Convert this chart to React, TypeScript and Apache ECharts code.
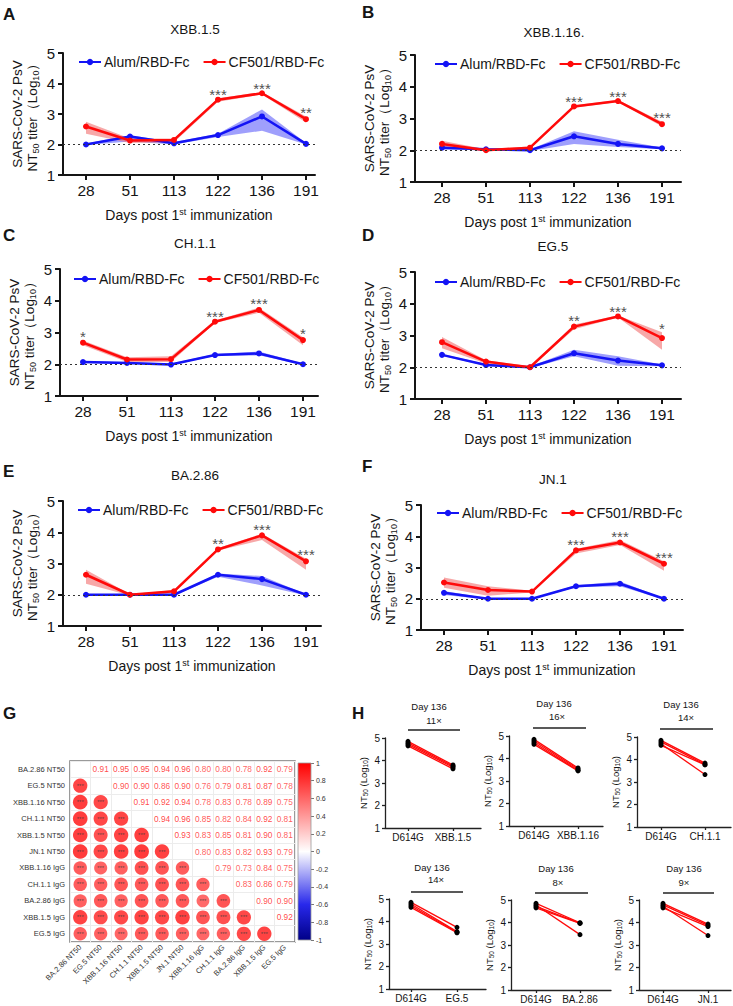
import React, { useEffect, useRef } from "react";
import * as echarts from "echarts";

const FONT = "Arial, 'Liberation Sans', Helvetica, sans-serif";

// ---------- DATA ----------
const days = ["28", "51", "113", "122", "136", "191"];
const groupAlum = "Alum/RBD-Fc";
const groupCF = "CF501/RBD-Fc";

// A: XBB.1.5
const aAlum = [2.0, 2.26, 2.04, 2.31, 2.92, 2.02];
const aAlumLo = [1.98, 2.1, 2.0, 2.25, 2.45, 2.0];
const aAlumHi = [2.03, 2.3, 2.08, 2.35, 3.15, 2.05];
const aCF = [2.59, 2.13, 2.15, 3.47, 3.68, 2.83];
const aCFLo = [2.35, 2.05, 2.07, 3.4, 3.64, 2.72];
const aCFHi = [2.75, 2.2, 2.2, 3.52, 3.72, 2.92];
const aStars = ["", "", "", "***", "***", "**"];

// B: XBB.1.16
const bAlum = [2.08, 2.03, 2.0, 2.44, 2.2, 2.06];
const bAlumLo = [2.02, 2.0, 1.98, 2.2, 2.1, 2.03];
const bAlumHi = [2.12, 2.06, 2.02, 2.6, 2.33, 2.09];
const bCF = [2.2, 2.0, 2.08, 3.38, 3.55, 2.82];
const bCFLo = [2.1, 1.97, 2.04, 3.34, 3.52, 2.75];
const bCFHi = [2.3, 2.03, 2.12, 3.42, 3.58, 2.9];
const bStars = ["", "", "", "***", "***", "***"];

// C: CH.1.1
const cAlum = [2.07, 2.04, 1.99, 2.29, 2.34, 2.0];
const cAlumLo = [2.04, 2.01, 1.97, 2.26, 2.28, 1.98];
const cAlumHi = [2.1, 2.07, 2.02, 2.32, 2.4, 2.02];
const cCF = [2.68, 2.15, 2.16, 3.34, 3.71, 2.76];
const cCFLo = [2.6, 2.07, 2.07, 3.3, 3.62, 2.6];
const cCFHi = [2.75, 2.22, 2.25, 3.38, 3.78, 2.85];
const cStars = ["*", "", "", "***", "***", "*"];

// D: EG.5
const dAlum = [2.39, 2.07, 2.0, 2.44, 2.21, 2.06];
const dAlumLo = [2.36, 2.04, 1.98, 2.35, 2.05, 2.03];
const dAlumHi = [2.42, 2.1, 2.02, 2.55, 2.35, 2.09];
const dCF = [2.79, 2.18, 2.0, 3.28, 3.6, 2.92];
const dCFLo = [2.6, 2.12, 1.97, 3.2, 3.57, 2.55];
const dCFHi = [2.95, 2.22, 2.03, 3.35, 3.63, 3.1];
const dStars = ["", "", "", "**", "***", "*"];

// E: BA.2.86
const eAlum = [2.0, 2.0, 2.0, 2.64, 2.5, 2.0];
const eAlumLo = [1.98, 1.98, 1.98, 2.58, 2.3, 1.98];
const eAlumHi = [2.02, 2.02, 2.02, 2.68, 2.6, 2.02];
const eCF = [2.64, 2.0, 2.11, 3.45, 3.9, 3.07];
const eCFLo = [2.35, 1.98, 2.05, 3.42, 3.75, 2.8];
const eCFHi = [2.8, 2.02, 2.15, 3.5, 3.95, 3.15];
const eStars = ["", "", "", "**", "***", "***"];

// F: JN.1
const fAlum = [2.19, 2.0, 2.0, 2.4, 2.48, 2.0];
const fAlumLo = [2.12, 1.98, 1.98, 2.37, 2.4, 1.98];
const fAlumHi = [2.25, 2.02, 2.02, 2.43, 2.55, 2.02];
const fCF = [2.52, 2.28, 2.23, 3.55, 3.8, 3.12];
const fCFLo = [2.35, 2.1, 2.2, 3.45, 3.72, 2.9];
const fCFHi = [2.68, 2.4, 2.26, 3.6, 3.88, 3.2];
const fStars = ["", "", "", "***", "***", "***"];

// G: correlation matrix (upper triangle rows)
const corrNames = [
  "BA.2.86 NT50", "EG.5 NT50", "XBB.1.16 NT50", "CH.1.1 NT50", "XBB.1.5 NT50",
  "JN.1 NT50", "XBB.1.16 IgG", "CH.1.1 IgG", "BA.2.86 IgG", "XBB.1.5 IgG", "EG.5 IgG",
];
const corrRow0 = [0.91, 0.95, 0.95, 0.94, 0.96, 0.8, 0.8, 0.78, 0.92, 0.79];
const corrRow1 = [0.9, 0.9, 0.86, 0.9, 0.76, 0.79, 0.81, 0.87, 0.78];
const corrRow2 = [0.91, 0.92, 0.94, 0.78, 0.83, 0.78, 0.89, 0.75];
const corrRow3 = [0.94, 0.96, 0.85, 0.82, 0.84, 0.92, 0.81];
const corrRow4 = [0.93, 0.83, 0.85, 0.81, 0.9, 0.81];
const corrRow5 = [0.8, 0.83, 0.82, 0.93, 0.79];
const corrRow6 = [0.79, 0.73, 0.84, 0.75];
const corrRow7 = [0.83, 0.86, 0.79];
const corrRow8 = [0.9, 0.9];
const corrRow9 = [0.92];
const corrRows = [corrRow0, corrRow1, corrRow2, corrRow3, corrRow4, corrRow5, corrRow6, corrRow7, corrRow8, corrRow9, []];
const corrSig = "***";
const corrTicks = [1, 0.8, 0.6, 0.4, 0.2, 0, -0.2, -0.4, -0.6, -0.8, -1];

// H: Day 136 paired titers
const hTitle = "Day 136";
const h1Variant = "XBB.1.5";
const h1Fold = "11×";
const h1D614G = [4.85, 4.78, 4.72, 4.65];
const h1Var = [3.8, 3.75, 3.7, 3.63];
const h2Variant = "XBB.1.16";
const h2Fold = "16×";
const h2D614G = [4.85, 4.78, 4.7, 4.63];
const h2Var = [3.58, 3.53, 3.48, 3.45];
const h3Variant = "CH.1.1";
const h3Fold = "14×";
const h3D614G = [4.85, 4.78, 4.7, 4.63];
const h3Var = [3.84, 3.78, 3.33, 3.76];
const h4Variant = "EG.5";
const h4Fold = "14×";
const h4D614G = [4.85, 4.78, 4.7, 4.63];
const h4Var = [3.74, 3.55, 3.52, 3.5];
const h5Variant = "BA.2.86";
const h5Fold = "8×";
const h5D614G = [4.85, 4.78, 4.72, 4.65];
const h5Var = [3.99, 3.46, 3.97, 3.96];
const h6Variant = "JN.1";
const h6Fold = "9×";
const h6D614G = [4.85, 4.78, 4.72, 4.65];
const h6Var = [3.93, 3.87, 3.42, 3.82];

// ---------- STYLE / LAYOUT ----------
const BLUE = "#1414F5";
const RED = "#FF0A0A";
const BLUE_BAND = "rgba(95,95,250,0.6)";
const RED_BAND = "rgba(242,115,115,0.62)";
const INK = "#151515";

const linePanels = [
  { letter: "A", title: "XBB.1.5", alum: aAlum, alumLo: aAlumLo, alumHi: aAlumHi, cf: aCF, cfLo: aCFLo, cfHi: aCFHi, stars: aStars,
    L: { lx: 3, ly: 14.5, tx: 195, ty: 29, left: 63, top: 53, width: 252, height: 122, first: 23, step: 44, legX: 78, legY: 63 } },
  { letter: "B", title: "XBB.1.16.", alum: bAlum, alumLo: bAlumLo, alumHi: bAlumHi, cf: bCF, cfLo: bCFLo, cfHi: bCFHi, stars: bStars,
    L: { lx: 362, ly: 12, tx: 554, ty: 32, left: 415, top: 55, width: 266, height: 127, first: 27, step: 44, legX: 434, legY: 65 } },
  { letter: "C", title: "CH.1.1", alum: cAlum, alumLo: cAlumLo, alumHi: cAlumHi, cf: cCF, cfLo: cCFLo, cfHi: cCFHi, stars: cStars,
    L: { lx: 3, ly: 235, tx: 195, ty: 243, left: 60, top: 269, width: 258, height: 127, first: 23, step: 44, legX: 73, legY: 280 } },
  { letter: "D", title: "EG.5", alum: dAlum, alumLo: dAlumLo, alumHi: dAlumHi, cf: dCF, cfLo: dCFLo, cfHi: dCFHi, stars: dStars,
    L: { lx: 362, ly: 235, tx: 553, ty: 246, left: 415, top: 272, width: 266, height: 127, first: 27, step: 44, legX: 434, legY: 283 } },
  { letter: "E", title: "BA.2.86", alum: eAlum, alumLo: eAlumLo, alumHi: eAlumHi, cf: eCF, cfLo: eCFLo, cfHi: eCFHi, stars: eStars,
    L: { lx: 3, ly: 471, tx: 195, ty: 475, left: 63, top: 501, width: 258, height: 125, first: 23, step: 44, legX: 77, legY: 511 } },
  { letter: "F", title: "JN.1", alum: fAlum, alumLo: fAlumLo, alumHi: fAlumHi, cf: fCF, cfLo: fCFLo, cfHi: fCFHi, stars: fStars,
    L: { lx: 362, ly: 466, tx: 553, ty: 479, left: 421, top: 505, width: 262, height: 125, first: 23, step: 44, legX: 436, legY: 514 } },
];

const hPanels = [
  { variant: h1Variant, fold: h1Fold, d: h1D614G, v: h1Var, L: { left: 385, top: 738, width: 96, height: 90, first: 23, step: 45, tx: 429, ty: 706, fx: 434, fy: 720, b0: 408, b1: 460, by: 730 } },
  { variant: h2Variant, fold: h2Fold, d: h2D614G, v: h2Var, L: { left: 509, top: 736, width: 94, height: 90, first: 25, step: 44, tx: 554, ty: 703, fx: 557, fy: 716, b0: 533, b1: 586, by: 728 } },
  { variant: h3Variant, fold: h3Fold, d: h3D614G, v: h3Var, L: { left: 637, top: 737, width: 94, height: 90, first: 24, step: 44, tx: 681, ty: 704, fx: 686, fy: 717, b0: 660, b1: 713, by: 729 } },
  { variant: h4Variant, fold: h4Fold, d: h4D614G, v: h4Var, L: { left: 389, top: 899, width: 97, height: 90, first: 22, step: 46, tx: 432, ty: 867, fx: 436, fy: 879, b0: 411, b1: 463, by: 892 } },
  { variant: h5Variant, fold: h5Fold, d: h5D614G, v: h5Var, L: { left: 511, top: 900, width: 100, height: 90, first: 25, step: 44, tx: 556, ty: 868, fx: 558, fy: 882, b0: 535, b1: 588, by: 893 } },
  { variant: h6Variant, fold: h6Fold, d: h6D614G, v: h6Var, L: { left: 639, top: 900, width: 92, height: 90, first: 24, step: 45, tx: 684, ty: 868, fx: 684, fy: 882, b0: 663, b1: 714, by: 893 } },
];

const G_LAYOUT = { left: 70, top: 761, width: 225, height: 181, cbLeft: 298, cbTop: 763, cbWidth: 13, cbHeight: 177 };
const LETTERS_GH = [
  { t: "G", x: 3, y: 713 },
  { t: "H", x: 352, y: 713 },
];

const corrStops: [number, number[]][] = [
  [-1, [0, 0, 135]],
  [-0.6, [40, 40, 235]],
  [0, [255, 255, 255]],
  [1, [255, 0, 0]],
];

function corrColor(r: number) {
  for (let i = 0; i < corrStops.length - 1; i++) {
    const [a, ca] = corrStops[i];
    const [b, cb] = corrStops[i + 1];
    if (r >= a && r <= b) {
      const t = (r - a) / (b - a);
      const c = ca.map((v, k) => Math.round(v + (cb[k] - v) * t));
      return `rgb(${c[0]},${c[1]},${c[2]})`;
    }
  }
  return "rgb(255,0,0)";
}

function txt(text: string, x: number, y: number, size: number, extra: any = {}) {
  return {
    type: "text",
    silent: true,
    style: {
      text, x, y, fontSize: size, fontFamily: FONT, fill: INK,
      textAlign: extra.align || "center", align: extra.align || "center",
      textVerticalAlign: "middle", verticalAlign: "middle",
      fontWeight: extra.weight || "normal",
    },
  };
}

const yNameRich = {
  a: { fontSize: 13.5, fill: INK, color: INK, fontFamily: FONT, lineHeight: 15 },
  s: { fontSize: 9, fill: INK, color: INK, fontFamily: FONT, verticalAlign: "bottom", lineHeight: 12 },
};

function buildOption() {
  const grids: any[] = [];
  const xAxes: any[] = [];
  const yAxes: any[] = [];
  const series: any[] = [];
  const legends: any[] = [];
  const graphics: any[] = [];

  const axisLineStyle = { color: INK, width: 2 };

  linePanels.forEach((p) => {
    const L = p.L;
    const gi = grids.length;
    grids.push({ left: L.left, top: L.top, width: L.width, height: L.height, outerBoundsMode: "none" });
    xAxes.push({
      type: "value", gridIndex: gi,
      min: -L.first / L.step, max: (L.width - L.first) / L.step,
      axisLine: { show: true, onZero: false, lineStyle: axisLineStyle },
      axisTick: { show: true, length: 5, lineStyle: axisLineStyle, customValues: [0, 1, 2, 3, 4, 5] },
      axisLabel: { customValues: [0, 1, 2, 3, 4, 5], formatter: (v: number) => days[Math.round(v)], fontSize: 15.5, color: INK, margin: 7, fontFamily: FONT },
      splitLine: { show: false },
      name: "{a|Days post 1}{s|st}{a| immunization}",
      nameLocation: "middle", nameGap: 32, nameMoveOverlap: false,
      nameTextStyle: {
        rich: {
          a: { fontSize: 14, color: INK, fontFamily: FONT, lineHeight: 16 },
          s: { fontSize: 9, color: INK, fontFamily: FONT, verticalAlign: "top", lineHeight: 16 },
        },
      },
    });
    yAxes.push({
      type: "value", gridIndex: gi, min: 1, max: 5, interval: 1,
      axisLine: { show: true, onZero: false, lineStyle: axisLineStyle },
      axisTick: { show: true, length: 5, lineStyle: axisLineStyle },
      axisLabel: { fontSize: 15, color: INK, margin: 8, fontFamily: FONT },
      splitLine: { show: false },
    });

    // rotated two-line y-axis title
    graphics.push({
      type: "text", silent: true,
      x: L.left - 38, y: L.top + L.height / 2, rotation: Math.PI / 2,
      style: {
        text: "{a|SARS-CoV-2 PsV}\n{a|NT}{s|50}{a| titer（Log}{s|10}{a|）}",
        rich: yNameRich, x: 0, y: 0,
        align: "center", textAlign: "center", verticalAlign: "middle", textVerticalAlign: "middle",
        fontFamily: FONT, fill: INK,
      },
    });

    const band = (lo: number[], hi: number[], fill: string, extra: any = {}) => ({
      type: "custom", xAxisIndex: gi, yAxisIndex: gi, silent: true, z: 1,
      data: lo.map((v, i) => [i, v]),
      renderItem: (params: any, api: any) => {
        if (params.dataIndex !== 0) return null;
        const pts: number[][] = [];
        for (let i = 0; i < hi.length; i++) pts.push(api.coord([i, hi[i]]));
        for (let i = lo.length - 1; i >= 0; i--) pts.push(api.coord([i, lo[i]]));
        return { type: "polygon", shape: { points: pts }, style: { fill } };
      },
      ...extra,
    });

    series.push(band(p.alumLo, p.alumHi, BLUE_BAND, {
      markLine: {
        silent: true, symbol: "none", label: { show: false },
        lineStyle: { type: [2, 3], color: "#333", width: 1.2 },
        data: [{ yAxis: 2 }],
      },
    }));
    series.push(band(p.cfLo, p.cfHi, RED_BAND));
    series.push({
      type: "line", name: groupAlum, xAxisIndex: gi, yAxisIndex: gi, z: 3,
      data: p.alum.map((v, i) => [i, v]), color: BLUE,
      lineStyle: { width: 2.5, color: BLUE }, itemStyle: { color: BLUE },
      symbol: "circle", symbolSize: 6,
    });
    series.push({
      type: "line", name: groupCF, xAxisIndex: gi, yAxisIndex: gi, z: 4,
      data: p.cf.map((v, i) => [i, v]), color: RED,
      lineStyle: { width: 2.5, color: RED }, itemStyle: { color: RED },
      symbol: "circle", symbolSize: 6,
    });
    series.push({
      type: "scatter", xAxisIndex: gi, yAxisIndex: gi, z: 5, silent: true,
      symbolSize: 1, itemStyle: { color: "rgba(0,0,0,0)" },
      data: p.stars.map((s, i) => (s ? { value: [i, p.cfHi[i]], star: s } : null)).filter(Boolean),
      label: {
        show: true, position: "top", distance: 0, offset: [0, 4],
        formatter: (prm: any) => prm.data.star, fontSize: 15, color: "#222", fontFamily: FONT,
      },
    });

    legends.push({
      data: [groupAlum, groupCF], left: L.legX, top: L.legY - 8, padding: 0,
      itemWidth: 22, itemHeight: 8, itemGap: 13, selectedMode: false,
      textStyle: { fontSize: 14, color: INK, fontFamily: FONT, padding: [0, 0, 0, -2] },
    });

    graphics.push(txt(p.letter, L.lx, L.ly, 17, { align: "left", weight: "bold" }));
    graphics.push(txt(p.title, L.tx, L.ty, 13.5));
  });

  // ---------- G: correlation ----------
  const G = G_LAYOUT;
  const gg = grids.length;
  grids.push({ left: G.left, top: G.top, width: G.width, height: G.height, show: true, borderColor: "#7a7a7a", borderWidth: 1.5, backgroundColor: "#fff", outerBoundsMode: "none" });
  xAxes.push({
    type: "category", gridIndex: gg, data: corrNames, boundaryGap: true,
    axisLine: { show: false }, axisTick: { show: false },
    axisLabel: { interval: 0, rotate: 45, fontSize: 7.5, color: "#333", margin: 4, fontFamily: FONT },
    splitLine: { show: true, interval: 0, lineStyle: { color: "#ececec", width: 1 } },
  });
  yAxes.push({
    type: "category", gridIndex: gg, data: corrNames, inverse: true, boundaryGap: true,
    axisLine: { show: false }, axisTick: { show: false },
    axisLabel: { interval: 0, fontSize: 7.5, color: "#333", margin: 5, fontFamily: FONT },
    splitLine: { show: true, interval: 0, lineStyle: { color: "#ececec", width: 1 } },
  });
  const upper: any[] = [];
  const lower: any[] = [];
  corrRows.forEach((row, i) => {
    row.forEach((r, k) => {
      const j = i + 1 + k;
      upper.push({ value: [j, i, r], label: { color: corrColor(r) } });
      lower.push({ value: [i, j, r], symbolSize: 15 * Math.sqrt(Math.abs(r)), itemStyle: { color: corrColor(r) } });
    });
  });
  series.push({
    type: "scatter", xAxisIndex: gg, yAxisIndex: gg, silent: true, z: 3,
    symbolSize: 1, itemStyle: { color: "rgba(0,0,0,0)" }, data: upper,
    label: { show: true, position: "inside", fontSize: 8.3, fontFamily: FONT, formatter: (prm: any) => prm.value[2].toFixed(2) },
  });
  series.push({
    type: "scatter", xAxisIndex: gg, yAxisIndex: gg, silent: true, z: 3, data: lower,
    label: { show: true, position: "inside", fontSize: 6, color: "#3a3a3a", fontFamily: FONT, formatter: () => corrSig },
  });

  // colour bar
  const gc = grids.length;
  grids.push({ left: G.cbLeft, top: G.cbTop, width: G.cbWidth, height: G.cbHeight, outerBoundsMode: "none" });
  xAxes.push({ type: "value", gridIndex: gc, min: 0, max: 1, show: false });
  yAxes.push({
    type: "value", gridIndex: gc, min: -1, max: 1, position: "right",
    axisLine: { show: false, onZero: false },
    axisTick: { show: true, length: 3, lineStyle: { color: "#555", width: 0.8 }, customValues: corrTicks },
    axisLabel: { customValues: corrTicks, fontSize: 7, color: "#333", margin: 5, fontFamily: FONT, formatter: (v: number) => String(Number(v.toFixed(1))) },
    splitLine: { show: false },
  });
  const gradStops = corrStops.slice().reverse().map(([r, c]) => ({ offset: (1 - r) / 2, color: `rgb(${c[0]},${c[1]},${c[2]})` }));
  series.push({
    type: "custom", xAxisIndex: gc, yAxisIndex: gc, silent: true,
    data: [[0, 1]],
    renderItem: (_p: any, api: any) => {
      const p0 = api.coord([0, 1]);
      const p1 = api.coord([1, -1]);
      return {
        type: "rect",
        shape: { x: p0[0], y: p0[1], width: p1[0] - p0[0], height: p1[1] - p0[1] },
        style: { fill: new echarts.graphic.LinearGradient(0, 0, 0, 1, gradStops), stroke: "#9a9a9a", lineWidth: 0.8 },
      };
    },
  });

  // ---------- H: paired plots ----------
  const hLine = { color: "#222", width: 1.3 };
  hPanels.forEach((p) => {
    const L = p.L;
    const gi = grids.length;
    grids.push({ left: L.left, top: L.top, width: L.width, height: L.height, outerBoundsMode: "none" });
    xAxes.push({
      type: "value", gridIndex: gi, min: -L.first / L.step, max: (L.width - L.first) / L.step,
      axisLine: { show: true, onZero: false, lineStyle: hLine },
      axisTick: { show: true, length: 3, lineStyle: hLine, customValues: [0, 1] },
      axisLabel: { customValues: [0, 1], formatter: (v: number) => (Math.round(v) === 0 ? "D614G" : p.variant), fontSize: 10, color: INK, margin: 4, fontFamily: FONT },
      splitLine: { show: false },
    });
    yAxes.push({
      type: "value", gridIndex: gi, min: 1, max: 5, interval: 1,
      axisLine: { show: true, onZero: false, lineStyle: hLine },
      axisTick: { show: true, length: 3, lineStyle: hLine },
      axisLabel: { fontSize: 10, color: INK, margin: 5, fontFamily: FONT },
      splitLine: { show: false },
      name: "{a|NT}{s|50}{a| (Log}{s|10}{a|)}",
      nameLocation: "middle", nameGap: 16, nameRotate: 90,
      nameTextStyle: {
        rich: {
          a: { fontSize: 9.5, color: INK, fontFamily: FONT, lineHeight: 12 },
          s: { fontSize: 6.5, color: INK, fontFamily: FONT, verticalAlign: "bottom", lineHeight: 9 },
        },
      },
    });
    p.d.forEach((a, m) => {
      series.push({
        type: "line", xAxisIndex: gi, yAxisIndex: gi, silent: true, z: 3,
        data: [[0, a], [1, p.v[m]]],
        lineStyle: { color: RED, width: 1.3 }, itemStyle: { color: "#000" },
        symbol: "circle", symbolSize: 5,
      });
    });
    graphics.push(txt(hTitle, L.tx, L.ty, 9.5));
    graphics.push(txt(p.fold, L.fx, L.fy, 9.5));
    graphics.push({ type: "line", silent: true, shape: { x1: L.b0, y1: L.by, x2: L.b1, y2: L.by }, style: { stroke: "#222", lineWidth: 1.6 } });
  });

  LETTERS_GH.forEach((l) => graphics.push(txt(l.t, l.x, l.y, 17, { align: "left", weight: "bold" })));

  return {
    animation: false,
    backgroundColor: "#ffffff",
    textStyle: { fontFamily: FONT },
    grid: grids,
    xAxis: xAxes,
    yAxis: yAxes,
    legend: legends,
    series,
    graphic: graphics,
  };
}

export default function App() {
  const ref = useRef<HTMLDivElement>(null);
  useEffect(() => {
    if (!ref.current) return;
    const chart = echarts.init(ref.current, undefined, { renderer: "svg" });
    chart.setOption(buildOption() as any);
    return () => chart.dispose();
  }, []);
  return (
    <div
      ref={ref}
      style={{ position: "fixed", left: 0, top: 0, width: 733, height: 1006, background: "#fff" }}
    />
  );
}
